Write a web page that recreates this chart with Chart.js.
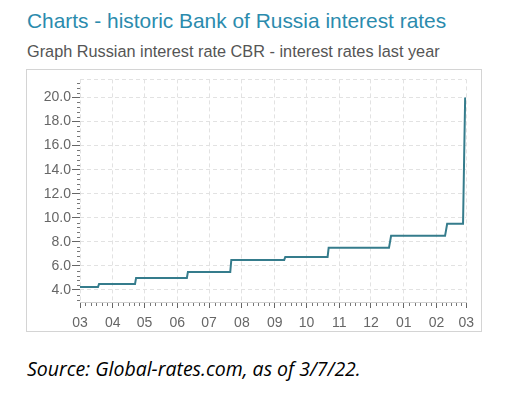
<!DOCTYPE html>
<html><head><meta charset="utf-8">
<script src="https://cdn.jsdelivr.net/npm/chart.js@4"></script>
<style>
html,body{margin:0;padding:0;background:#fff}
body{width:515px;height:399px;position:relative;overflow:hidden;font-family:"Liberation Sans",Arial,sans-serif}
#title{position:absolute;left:27px;top:8px;font-size:20.9px;line-height:25px;color:#2b8bad;white-space:nowrap}
#sub{position:absolute;left:27px;top:41px;font-size:16.3px;line-height:20px;color:#555;white-space:nowrap}
#box{position:absolute;left:26px;top:69px;width:454px;height:261px;border:1px solid #d4d4d4}
#box canvas{display:block}
#src{position:absolute;left:27px;top:356px;font-family:"Open Sans",sans-serif;font-style:italic;font-size:19.5px;line-height:26px;color:#000;white-space:nowrap}
</style></head>
<body>
<div id="title">Charts - historic Bank of Russia interest rates</div>
<div id="sub">Graph Russian interest rate CBR - interest rates last year</div>
<div id="box"><canvas id="c" width="454" height="261"></canvas></div>
<div id="src">Source: Global-rates.com, as of 3/7/22.</div>
<script>
// Data
const dates = ["2021-03-01","2021-03-18","2021-03-19","2021-04-22","2021-04-23","2021-06-10","2021-06-11",
  "2021-07-21","2021-07-22","2021-09-10","2021-09-11","2021-10-21","2021-10-22","2021-12-18","2021-12-19",
  "2021-12-20","2022-02-09","2022-02-10","2022-02-11","2022-02-26","2022-02-27","2022-02-28"];
const rates = [4.25,4.25,4.5,4.5,5.0,5.0,5.5,5.5,6.5,6.5,6.75,6.75,7.5,7.5,8.0,8.5,8.5,9.0,9.5,9.5,14.8,20.0];
const monthTicks = ["2021-03-01","2021-04-01","2021-05-01","2021-06-01","2021-07-01","2021-08-01","2021-09-01",
  "2021-10-01","2021-11-01","2021-12-01","2022-01-01","2022-02-01","2022-03-01"];
const monthLabels = ["03","04","05","06","07","08","09","10","11","12","01","02","03"];
const yTickValues = [4,6,8,10,12,14,16,18,20];
const yMin = 3, yMax = 21.5;

const origin = Date.UTC(2021,2,1);
const toDay = s => { const [Y,M,D] = s.split('-').map(Number); return (Date.UTC(Y,M-1,D)-origin)/86400000; };
const tickDays = monthTicks.map(toDay);
const points = dates.map((d,i)=>({x:toDay(d), y:rates[i]}));

const minorTicks = {
  id:'minorTicks',
  afterDraw(chart){
    const {ctx, chartArea:a, scales:{x,y}} = chart;
    ctx.save(); ctx.strokeStyle='#777'; ctx.lineWidth=1; ctx.beginPath();
    for(let i=0;i<tickDays.length-1;i++){
      const d0=tickDays[i], d1=tickDays[i+1];
      for(let k=1;k<6;k++){
        const px=Math.round(x.getPixelForValue(d0+(d1-d0)*k/6))+0.5;
        ctx.moveTo(px,a.bottom+1); ctx.lineTo(px,a.bottom+4);
      }
    }
    for(let v=3.2; v<21.4; v+=0.4){
      const r=Math.round(v*10)/10;
      if(yTickValues.includes(r)) continue;
      const py=Math.round(y.getPixelForValue(r))+0.5;
      ctx.moveTo(a.left-3,py); ctx.lineTo(a.left,py);
    }
    ctx.stroke(); ctx.restore();
  }
};

new Chart(document.getElementById('c'),{
  type:'line',
  data:{datasets:[{data:points,borderColor:'#357c8c',borderWidth:2,pointRadius:0,tension:0,fill:false}]},
  options:{
    responsive:false, animation:false, events:[],
    layout:{padding:{top:8,right:14,left:0,bottom:0}},
    plugins:{legend:{display:false},tooltip:{enabled:false}},
    scales:{
      x:{type:'linear',min:0,max:365,
        afterBuildTicks(s){ s.ticks = tickDays.map(v=>({value:v})); },
        afterFit(s){ s.height = 29; },
        ticks:{autoSkip:false,maxRotation:0,padding:7,color:'#666',font:{family:'"Liberation Sans", Arial',size:14},
          callback:(v,i)=>monthLabels[i]},
        grid:{color:'#e2e2e2',tickColor:'#666',tickLength:6,lineWidth:1},
        border:{display:true,color:'#d0d0d0',width:1,dash:[4,3]}
      },
      y:{type:'linear',min:yMin,max:yMax,
        afterBuildTicks(s){ s.ticks = yTickValues.concat([yMax]).map(v=>({value:v})); },
        afterFit(s){ s.width = 53; },
        ticks:{padding:1,color:'#666',font:{family:'"Liberation Sans", Arial',size:14},
          callback:v=> v===yMax ? '' : v.toFixed(1)},
        grid:{color:'#e2e2e2',tickLength:8,lineWidth:1,
          tickColor:c=> c.tick && c.tick.value===yMax ? 'rgba(0,0,0,0)' : '#666'},
        border:{display:false,dash:[4,3]}
      }
    }
  },
  plugins:[minorTicks]
});
</script>
</body></html>
